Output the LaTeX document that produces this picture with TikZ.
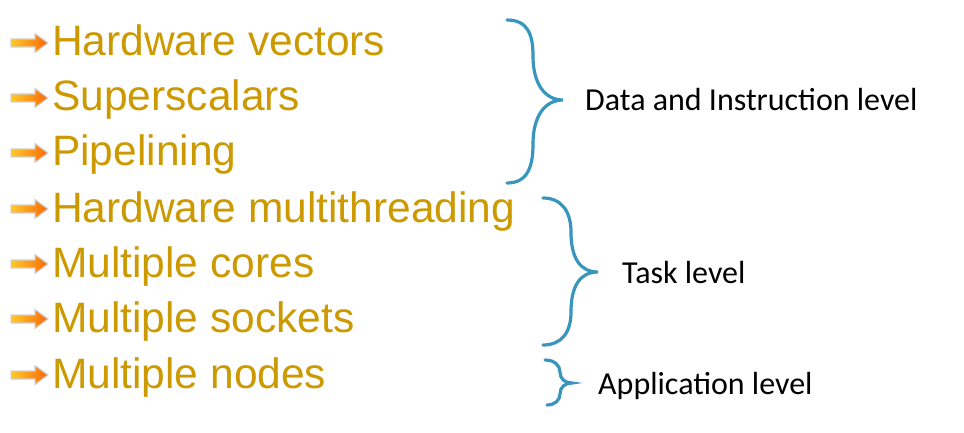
\documentclass[tikz,border=0pt]{standalone}
\usepackage{fontspec}
\setmainfont{Liberation Sans}
\newfontfamily\labelfont{Carlito}
\definecolor{itemgold}{RGB}{204,153,0}
\definecolor{bracecol}{RGB}{56,150,190}
\definecolor{arrA}{RGB}{255,200,40}
\definecolor{arrB}{RGB}{250,105,10}
\begin{document}
\begin{tikzpicture}[x=1pt,y=-1pt,
  itemtext/.style={anchor=base west,inner sep=0pt,text=itemgold,font=\fontsize{42.5}{50}\selectfont},
  lvl/.style={anchor=base west,inner sep=0pt,text=black,font=\labelfont\fontsize{32}{38}\selectfont},
  bracestyle/.style={draw=bracecol,line width=3.2pt,line cap=round}]
\useasboundingbox (0,0) rectangle (964,433);
\foreach \i/\t [count=\n] in {56/Hardware vectors,111/Superscalars,166/Pipelining,222/Hardware multithreading,277/Multiple cores,332/Multiple sockets,388/Multiple nodes}{
  \node[itemtext] (it\n) at (52,\i) {\t};
  \pgfmathsetmacro{\c}{\i-13}
  \path[draw=black!18,line width=1.2pt,line join=round,left color=arrA,right color=arrB]
    (11,\c-4) -- (35,\c-4) -- (35,\c-9.5) -- (48,\c) -- (35,\c+9.5) -- (35,\c+4) -- (11,\c+4) -- cycle;
}
% brace 1
\draw[bracestyle] (507,20) .. controls (528,20) and (533,35) .. (533,56) .. controls (533,84) and (545,100) .. (563,100)
  .. controls (545,100) and (533,116) .. (533,144) .. controls (533,166) and (528,183) .. (507,183);
\coordinate (b1) at (563,100);
\node[lvl] (l1) at (585,111) {Data and Instruction level};
% brace 2
\draw[bracestyle] (543,198) .. controls (562,198) and (571,212) .. (571,232) .. controls (571,258) and (580,272) .. (598,272)
  .. controls (580,272) and (571,286) .. (571,312) .. controls (571,332) and (562,345) .. (543,345);
\coordinate (b2) at (598,272);
\node[lvl] (l2) at (622,283) {Task level};
% brace 3
\draw[bracestyle] (545,360) .. controls (555,360) and (560,366) .. (560,372) .. controls (560,379) and (565,383) .. (572,383)
  .. controls (565,383) and (560,387) .. (560,394) .. controls (560,400) and (555,405) .. (547,405);
\coordinate (b3) at (572,383);
\node[lvl] (l3) at (598,394) {Application level};
\end{tikzpicture}
\end{document}
